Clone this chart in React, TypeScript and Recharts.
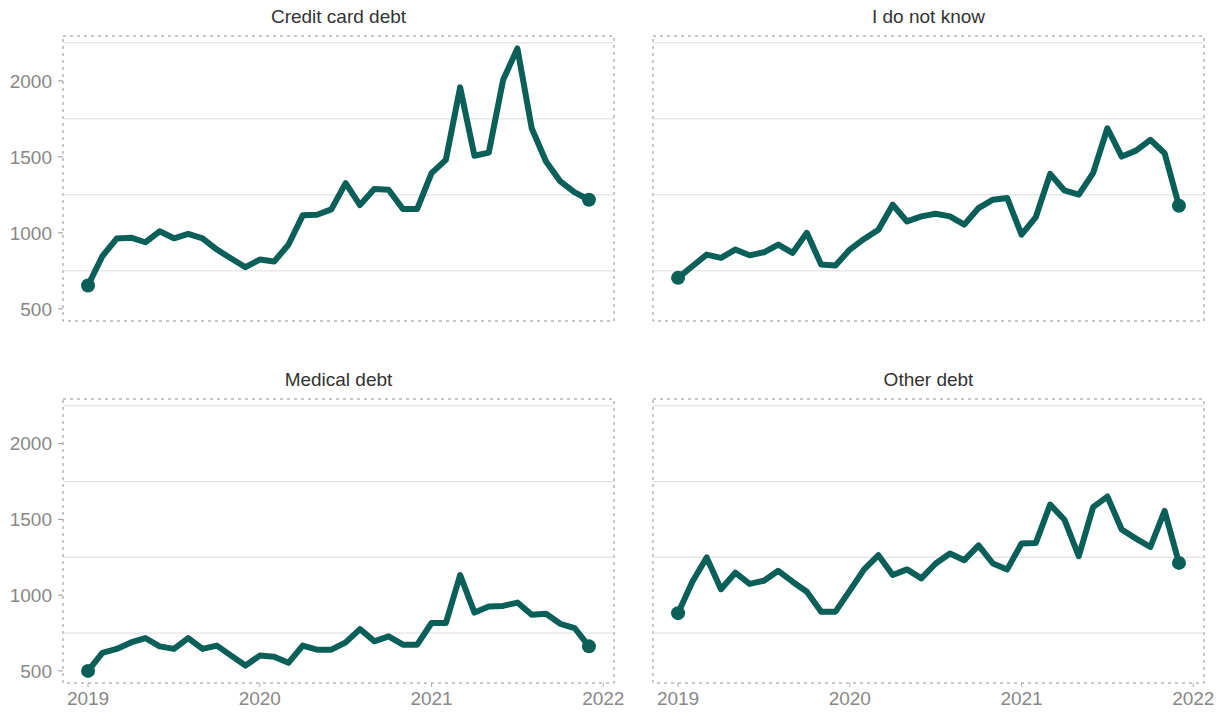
import React from "react";
import { LineChart, Line, XAxis, YAxis, ReferenceLine, ReferenceArea } from "recharts";

const MONTHS = [
  "2019-01", "2019-02", "2019-03", "2019-04", "2019-05", "2019-06",
  "2019-07", "2019-08", "2019-09", "2019-10", "2019-11", "2019-12",
  "2020-01", "2020-02", "2020-03", "2020-04", "2020-05", "2020-06",
  "2020-07", "2020-08", "2020-09", "2020-10", "2020-11", "2020-12",
  "2021-01", "2021-02", "2021-03", "2021-04", "2021-05", "2021-06",
  "2021-07", "2021-08", "2021-09", "2021-10", "2021-11", "2021-12",
];

const CREDIT_CARD = [
  654, 846, 962, 968, 938, 1010, 964, 993, 964, 890, 831, 774,
  824, 811, 922, 1115, 1119, 1154, 1327, 1183, 1288, 1284, 1157, 1157,
  1393, 1480, 1957, 1507, 1528, 2005, 2213, 1688, 1469, 1338, 1266, 1218,
];

const DO_NOT_KNOW = [
  704, 780, 857, 835, 890, 852, 872, 923, 868, 1000, 791, 785,
  890, 960, 1021, 1185, 1075, 1108, 1126, 1108, 1054, 1163, 1218, 1229,
  988, 1104, 1388, 1279, 1251, 1393, 1688, 1502, 1541, 1612, 1524, 1178,
];

const MEDICAL = [
  500, 619, 645, 688, 717, 662, 645, 717, 645, 667, 601, 535,
  601, 593, 553, 667, 640, 640, 688, 776, 695, 728, 673, 673,
  816, 816, 1133, 885, 925, 929, 951, 870, 877, 811, 783, 662,
];

const OTHER = [
  881, 1089, 1249, 1039, 1148, 1074, 1095, 1161, 1089, 1023, 891, 891,
  1030, 1170, 1264, 1133, 1170, 1111, 1209, 1275, 1231, 1329, 1209, 1170,
  1341, 1345, 1598, 1498, 1257, 1581, 1651, 1433, 1373, 1318, 1556, 1213,
];

const YEAR_TICKS = [0, 12, 24, 36];
const YEAR_LABELS = ["2019", "2020", "2021", "2022"];
const Y_TICKS = [500, 1000, 1500, 2000];
const GRID_VALUES = [750, 1250, 1750, 2250];

const X_DOMAIN: [number, number] = [-1.75, 36.75];
const Y_DOMAIN: [number, number] = [420, 2295];
const COLOR = "#0a5f59";
const FONT = "'Liberation Sans', Arial, Helvetica, sans-serif";

const endDot = (props: any) => {
  const { cx, cy, index } = props;
  if (index === 0 || index === MONTHS.length - 1) {
    return <circle key={`dot-${index}`} cx={cx} cy={cy} r={7} fill={COLOR} />;
  }
  return <g key={`dot-${index}`} />;
};

interface FacetProps {
  title: string;
  values: number[];
  left: number;
  top: number;
  width: number;
  height: number;
  margin: { top: number; right: number; bottom: number; left: number };
  showY: boolean;
  showX: boolean;
  plotLeft: number;
  plotWidth: number;
  titleTop: number;
}

function Facet(p: FacetProps) {
  const data = MONTHS.map((m, i) => ({ i, month: m, value: p.values[i] }));
  return (
    <>
      <div
        style={{
          position: "absolute",
          left: p.plotLeft,
          top: p.titleTop,
          width: p.plotWidth,
          textAlign: "center",
          fontSize: 19,
          lineHeight: "19px",
          color: "#333",
          fontFamily: FONT,
        }}
      >
        {p.title}
      </div>
      <div style={{ position: "absolute", left: p.left, top: p.top, width: p.width, height: p.height }}>
        <LineChart width={p.width} height={p.height} data={data} margin={p.margin}>
          {GRID_VALUES.map((v) => (
            <ReferenceLine key={v} y={v} stroke="#dcdcdc" strokeWidth={1} />
          ))}
          <ReferenceArea
            x1={X_DOMAIN[0]}
            x2={X_DOMAIN[1]}
            y1={Y_DOMAIN[0]}
            y2={Y_DOMAIN[1]}
            fill="none"
            stroke="#8f8f8f"
            strokeDasharray="3 4"
          />
          <XAxis
            type="number"
            dataKey="i"
            domain={X_DOMAIN}
            ticks={YEAR_TICKS}
            allowDataOverflow
            hide={!p.showX}
            height={30}
            axisLine={false}
            tickSize={4}
            tickMargin={5}
            tickLine={{ stroke: "#b0b0b0" }}
            tick={{ fill: "#888", fontSize: 19, fontFamily: FONT }}
            tickFormatter={(v: number) => YEAR_LABELS[YEAR_TICKS.indexOf(v)]}
          />
          <YAxis
            type="number"
            domain={Y_DOMAIN}
            ticks={Y_TICKS}
            allowDataOverflow
            hide={!p.showY}
            width={63}
            axisLine={false}
            tickSize={5}
            tickMargin={6}
            tickLine={{ stroke: "#9a9a9a" }}
            tick={{ fill: "#888", fontSize: 19, fontFamily: FONT }}
          />
          <Line
            type="linear"
            dataKey="value"
            stroke={COLOR}
            strokeWidth={6}
            strokeLinejoin="round"
            dot={endDot}
            activeDot={false}
            isAnimationActive={false}
          />
        </LineChart>
      </div>
    </>
  );
}

export default function App() {
  return (
    <div style={{ position: "absolute", left: 0, top: 0, width: 1225, height: 713, background: "#fff" }}>
      <Facet
        title="Credit card debt"
        values={CREDIT_CARD}
        left={0}
        top={0}
        width={640}
        height={330}
        margin={{ top: 36, right: 26, bottom: 9, left: 0 }}
        showY
        showX={false}
        plotLeft={63}
        plotWidth={551}
        titleTop={7}
      />
      <Facet
        title="I do not know"
        values={DO_NOT_KNOW}
        left={620}
        top={0}
        width={605}
        height={330}
        margin={{ top: 36, right: 21, bottom: 9, left: 33 }}
        showY={false}
        showX={false}
        plotLeft={653}
        plotWidth={551}
        titleTop={7}
      />
      <Facet
        title="Medical debt"
        values={MEDICAL}
        left={0}
        top={363}
        width={640}
        height={350}
        margin={{ top: 36, right: 26, bottom: 0, left: 0 }}
        showY
        showX
        plotLeft={63}
        plotWidth={551}
        titleTop={370}
      />
      <Facet
        title="Other debt"
        values={OTHER}
        left={620}
        top={363}
        width={605}
        height={350}
        margin={{ top: 36, right: 21, bottom: 0, left: 33 }}
        showY={false}
        showX
        plotLeft={653}
        plotWidth={551}
        titleTop={370}
      />
    </div>
  );
}
